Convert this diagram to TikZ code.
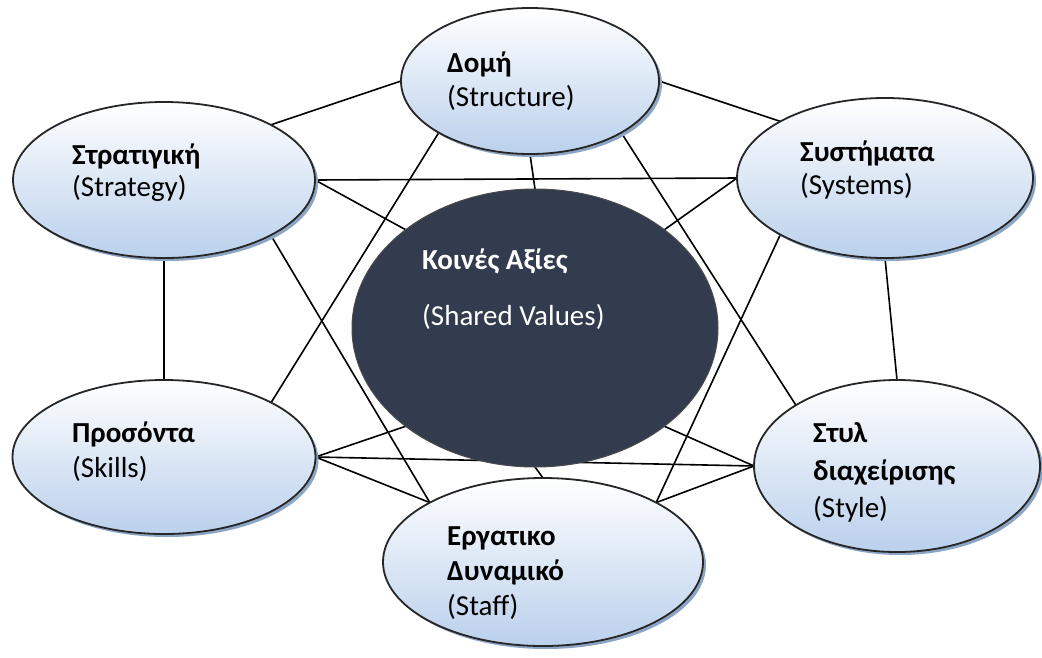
\documentclass[tikz,border=0pt]{standalone}
\usepackage{fontspec}
\setmainfont{Carlito}
\usetikzlibrary{shapes.geometric,shadows,backgrounds}
\definecolor{edgegray}{HTML}{262626}
\definecolor{fillblue}{HTML}{BAD0EC}
\definecolor{shadowblue}{HTML}{8DA5C4}
\definecolor{navy}{HTML}{323C4E}
\definecolor{coreedge}{HTML}{4A4A4A}

\begin{document}
\begin{tikzpicture}[x=1pt,y=-1pt,
  element/.style={ellipse, draw=edgegray, line width=1.8pt, inner sep=0pt, outer sep=0pt,
    top color=white, bottom color=fillblue,
    drop shadow={shadow xshift=3pt, shadow yshift=-3pt, fill=shadowblue, opacity=1}},
  core/.style={ellipse, draw=coreedge, line width=1pt, fill=navy, inner sep=0pt, outer sep=0pt},
  link/.style={line width=1.6pt, black},
  lbl/.style={anchor=base west, inner sep=0pt, font=\fontsize{29}{35}\selectfont},
  head/.style={anchor=base west, inner sep=0pt, font=\fontsize{29}{35}\selectfont\bfseries}
]
\useasboundingbox (0,0) rectangle (1042,657);

% the seven elements
\node[element, minimum width=302pt, minimum height=156pt] (strat)  at (164,180) {};
\node[element, minimum width=258pt, minimum height=146pt] (struct) at (530,81)  {};
\node[element, minimum width=296pt, minimum height=160pt] (sys)    at (885,178) {};
\node[core,    minimum width=366pt, minimum height=278pt] (shared) at (535,328) {};
\node[element, minimum width=303pt, minimum height=154pt] (skills) at (164,457) {};
\node[element, minimum width=286pt, minimum height=172pt] (style)  at (897,466) {};
\node[element, minimum width=320pt, minimum height=168pt] (staff)  at (543,562) {};

% connectors, kept behind the ellipses
\begin{pgfonlayer}{background}
\fill[white] (0,0) rectangle (1042,657);
\draw[link] (strat.north east) -- (struct.west);
\draw[link] (struct.east) -- (sys.north west);
\draw[link] (strat.south) -- (skills.north);
\draw[link] (sys.south) -- (style.north);
\draw[link] (strat.east) -- (sys.west);
\draw[link] (skills.east) -- (style.west);
\draw[link] (strat.east) -- (shared.north west);
\draw[link] (sys.west) -- (shared.north east);
\draw[link] (skills.east) -- (shared.south west);
\draw[link] (style.west) -- (shared.south east);
\draw[link] (struct.south) -- (shared.north);
\draw[link] (shared.south) -- (staff.north);
\draw[link] (struct.south west) -- (skills.north east);
\draw[link] (struct.south east) -- (style.north west);
\draw[link] (strat.south east) -- (staff.north west);
\draw[link] (sys.south west) -- (staff.north east);
\draw[link] (skills.east) -- (staff.north west);
\draw[link] (style.west) -- (staff.north east);
\end{pgfonlayer}

% labels
\node[head] (struct-h) at (447,72)  {Δομή};
\node[lbl]  (struct-e) at (447,106) {(Structure)};

\node[head] (strat-h) at (72,164) {Στρατιγική};
\node[lbl]  (strat-e) at (72,196) {(Strategy)};

\node[head] (sys-h) at (800,161) {Συστήματα};
\node[lbl]  (sys-e) at (800,194) {(Systems)};

\node[head, text=white] (shared-h) at (422,269) {Κοινές Αξίες};
\node[lbl,  text=white] (shared-e) at (422,325) {(Shared Values)};

\node[head] (skills-h) at (72,442) {Προσόντα};
\node[lbl]  (skills-e) at (72,477) {(Skills)};

\node[head] (style-h1) at (813,442) {Στυλ};
\node[head] (style-h2) at (813,480) {διαχείρισης};
\node[lbl]  (style-e)  at (813,517) {(Style)};

\node[head] (staff-h1) at (447,545) {Εργατικο};
\node[head] (staff-h2) at (447,580) {Δυναμικό};
\node[lbl]  (staff-e)  at (447,615) {(Staff)};
\end{tikzpicture}
\end{document}
